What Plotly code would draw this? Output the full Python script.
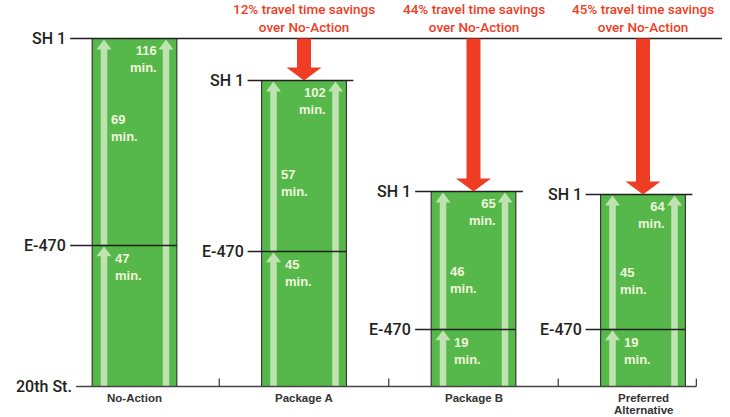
import plotly.graph_objects as go

# Travel times (minutes) from 20th St. to E-470 and from E-470 to SH 1
categories = ["No-Action", "Package A", "Package B", "Preferred<br>Alternative"]
to_e470 = [47, 45, 19, 19]
e470_to_sh1 = [69, 57, 46, 45]
total = [116, 102, 65, 64]

# where the middle "min." label sits within the upper segment (fraction of its length)
mid_label_frac = [0.57, 0.40, 0.36, 0.36]
# length of the leader line running from each "SH 1"/"E-470" label to its bar (px)
leader_px = [22, 14, 16, 15]

W, H = 730, 417
PX_PER_X = 169.5      # pixels per category step
PX_PER_Y = 3.0        # pixels per minute
X0_PX = 134.5         # pixel position of the first category
Y0_PX = 386.5         # pixel position of 0 minutes

x_range = [-X0_PX / PX_PER_X, (W - X0_PX) / PX_PER_X]
y_range = [(Y0_PX - H) / PX_PER_Y, Y0_PX / PX_PER_Y]


def dx(px):
    return px / PX_PER_X


def dy(px):
    return px / PX_PER_Y


GREEN = "#56b84a"
LIGHT = "#bfe3b0"
RED = "#ee3d24"
DARK = "#231f20"
BAR_W = 0.5
LOC_FONT = dict(family="Roboto, Liberation Sans, Arial", size=16, color=DARK, weight=500)
RED_FONT = dict(family="Roboto, Liberation Sans, Arial", size=13.5, color=RED, weight=500)
MIN_FONT = dict(family="Liberation Sans, Arial", size=13, color="#f0f5dc", weight="bold")
CAT_FONT = dict(family="Liberation Sans, Arial", size=11.5, color="#333333", weight="bold")

xs = list(range(len(categories)))

fig = go.Figure()
fig.add_trace(go.Bar(x=xs, y=to_e470, base=[0] * len(xs), width=BAR_W,
                     marker=dict(color=GREEN, line=dict(color=DARK, width=1)),
                     hoverinfo="skip"))
fig.add_trace(go.Bar(x=xs, y=e470_to_sh1, base=to_e470, width=BAR_W,
                     marker=dict(color=GREEN, line=dict(color=DARK, width=1)),
                     hoverinfo="skip"))

shapes = []
annotations = []


def arrow(xc, y0, ytip, shaft_px, head_w_px, head_h_px, color, up=True):
    hw = dx(head_w_px / 2)
    sw = dx(shaft_px / 2)
    yb = ytip - dy(head_h_px) if up else ytip + dy(head_h_px)
    path = (f"M {xc - sw},{y0} L {xc + sw},{y0} L {xc + sw},{yb} L {xc + hw},{yb} "
            f"L {xc},{ytip} L {xc - hw},{yb} L {xc - sw},{yb} Z")
    return dict(type="path", path=path, xref="x", yref="y", fillcolor=color,
                line=dict(width=0), layer="above")


base_total = total[0]
for i, x in enumerate(xs):
    left = x - BAR_W / 2
    right = x + BAR_W / 2
    lo = to_e470[i]
    top = total[i]
    lead = dx(leader_px[i])

    # light direction-of-travel arrows inside the bar
    ax_l = x - dx(30.5)
    ax_r = x + dx(31.5)
    shapes.append(arrow(ax_l, 0, lo - dy(0.8), 6.5, 15, 10, LIGHT))
    shapes.append(arrow(ax_l, lo + dy(0.8), top - dy(1), 6.5, 15, 10, LIGHT))
    shapes.append(arrow(ax_r, 0, top - dy(1), 6.5, 15, 10, LIGHT))

    # E-470 line across the bar with leader
    shapes.append(dict(type="line", xref="x", yref="y", x0=left - lead, x1=right,
                       y0=lo, y1=lo, line=dict(color=DARK, width=1.3), layer="above"))
    # SH 1 line
    if i == 0:
        shapes.append(dict(type="line", xref="x", yref="y", x0=left - lead,
                           x1=x_range[1] - dx(8), y0=top, y1=top,
                           line=dict(color=DARK, width=1.5), layer="above"))
    else:
        shapes.append(dict(type="line", xref="x", yref="y", x0=left - lead,
                           x1=right + dx(7), y0=top, y1=top,
                           line=dict(color=DARK, width=1.5), layer="above"))
        # red savings arrow from the No-Action level down to this bar
        shapes.append(arrow(x, base_total, top, 14, 35, 13, RED, up=False))
        pct = round((base_total - top) / base_total * 100)
        annotations.append(dict(x=x, y=base_total + dy(1), xref="x", yref="y",
                                text=f"{pct}% travel time savings<br>over No-Action",
                                showarrow=False, xanchor="center", yanchor="bottom",
                                font=RED_FONT))

    # location labels on the left of each bar
    for yv, name in ((lo, "E-470"), (top, "SH 1")):
        annotations.append(dict(x=left - lead - dx(2), y=yv, xref="x", yref="y",
                                text=name, showarrow=False, xanchor="right",
                                yanchor="middle", font=LOC_FONT))

    # minute labels
    annotations.append(dict(x=right - dx(18), y=top - dy(2), xref="x", yref="y",
                            text=f"{top}<br>min.", showarrow=False,
                            xanchor="right", yanchor="top", align="right", font=MIN_FONT))
    mid_y = lo + mid_label_frac[i] * e470_to_sh1[i]
    annotations.append(dict(x=left + dx(17), y=mid_y, xref="x", yref="y",
                            text=f"{e470_to_sh1[i]}<br>min.", showarrow=False,
                            xanchor="left", yanchor="middle", align="left", font=MIN_FONT))
    annotations.append(dict(x=left + dx(21), y=lo - dy(3), xref="x", yref="y",
                            text=f"{lo}<br>min.", showarrow=False,
                            xanchor="left", yanchor="top", align="left", font=MIN_FONT))

    # category label under the bar, one annotation per line for tight spacing
    for k, line in enumerate(categories[i].split("<br>")):
        annotations.append(dict(x=x, y=-dy(11 + 12.8 * k), xref="x", yref="y",
                                text=line, showarrow=False, borderpad=0,
                                xanchor="center", yanchor="middle", font=CAT_FONT))

# 20th St. baseline with separator ticks
first_left = xs[0] - BAR_W / 2 - dx(leader_px[0])
end_x = xs[-1] + BAR_W / 2 + dx(11)
shapes.append(dict(type="line", xref="x", yref="y", x0=first_left + dx(6), x1=end_x,
                   y0=0, y1=0, line=dict(color="#444444", width=1.3), layer="above"))
for tx in [0.5, 1.5, 2.5]:
    shapes.append(dict(type="line", xref="x", yref="y", x0=tx, x1=tx, y0=0, y1=dy(8),
                       line=dict(color="#444444", width=1.3), layer="above"))
shapes.append(dict(type="line", xref="x", yref="y", x0=end_x, x1=end_x, y0=0, y1=dy(8),
                   line=dict(color="#444444", width=1.3), layer="above"))
annotations.append(dict(x=first_left + dx(4), y=0, xref="x", yref="y", text="20th St.",
                        showarrow=False, xanchor="right", yanchor="middle", font=LOC_FONT))

fig.update_layout(
    width=W, height=H,
    margin=dict(l=0, r=0, t=0, b=0, pad=0),
    paper_bgcolor="white", plot_bgcolor="white",
    barmode="overlay", showlegend=False,
    xaxis=dict(range=x_range, visible=False, fixedrange=True),
    yaxis=dict(range=y_range, visible=False, fixedrange=True),
    shapes=shapes, annotations=annotations,
)

fig.write_html("out.html", config={"displayModeBar": False})
